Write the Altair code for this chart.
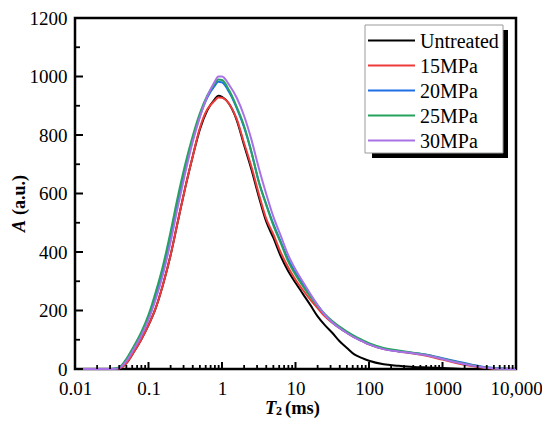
import altair as alt
import pandas as pd

# ---- data ----
T = [0.01, 0.0158, 0.0251, 0.0316, 0.0398, 0.0501, 0.0631, 0.0794, 0.1, 0.126,
     0.158, 0.2, 0.251, 0.316, 0.398, 0.501, 0.631, 0.794, 0.891, 1,
     1.26, 1.58, 2.0, 2.51, 3.16, 3.98, 5.01, 6.31, 7.94, 10,
     12.6, 15.8, 20, 25.1, 31.6, 39.8, 50.1, 63.1, 79.4, 100,
     158, 251, 398, 631, 1000, 1585, 2512, 3981, 6310, 10000]

untreated = [0, 0, 0, 0, 2, 20, 58, 100, 150, 210,
             290, 390, 505, 620, 725, 820, 884, 922, 934, 930,
             905, 852, 765, 683, 590, 505, 448, 385, 335, 295,
             257, 220, 180, 150, 124, 95, 72, 50, 38, 28,
             16, 11, 7, 5, 3, 1, 0, 0, 0, 0]
mpa15 = [0, 0, 0, 0, 2, 20, 58, 100, 150, 210,
         290, 390, 505, 620, 725, 825, 888, 917, 928, 927,
         905, 856, 772, 692, 600, 515, 460, 398, 348, 305,
         270, 238, 208, 180, 158, 140, 123, 108, 96, 84,
         68, 60, 53, 44, 32, 20, 10, 3, 0, 0]
mpa20 = [0, 0, 0, 0, 4, 30, 72, 118, 175, 250,
         338, 450, 570, 683, 783, 865, 928, 968, 982, 980,
         945, 893, 826, 742, 642, 565, 495, 435, 375, 330,
         290, 254, 218, 186, 160, 140, 124, 109, 97, 85,
         69, 61, 55, 48, 37, 26, 15, 6, 2, 0]
mpa25 = [0, 0, 0, 0, 5, 35, 78, 125, 185, 265,
         355, 470, 590, 700, 795, 875, 935, 975, 990, 988,
         951, 897, 830, 743, 640, 562, 490, 430, 368, 322,
         283, 248, 215, 187, 164, 145, 128, 113, 100, 88,
         72, 63, 56, 48, 35, 23, 13, 5, 1, 0]
mpa30 = [0, 0, 0, 0, 3, 27, 68, 113, 168, 240,
         325, 435, 555, 670, 775, 862, 932, 982, 1000, 1000,
         970, 928, 865, 785, 688, 600, 520, 455, 390, 340,
         298, 258, 218, 185, 160, 140, 123, 108, 96, 84,
         68, 60, 54, 46, 34, 22, 12, 4, 1, 0]

series_names = ["Untreated", "15MPa", "20MPa", "25MPa", "30MPa"]
series_values = [untreated, mpa15, mpa20, mpa25, mpa30]
series_colors = ["#000000", "#f03a3a", "#1f6fe5", "#25a35e", "#a872e6"]

x_tick_values = [0.01, 0.1, 1, 10, 100, 1000, 10000]
x_tick_labels = ["0.01", "0.1", "1", "10", "100", "1000", "10,000"]
x_minor_values = [m * d for d in [0.01, 0.1, 1, 10, 100, 1000] for m in range(2, 10)]
y_tick_values = [0, 200, 400, 600, 800, 1000, 1200]
y_minor_values = [100, 300, 500, 700, 900, 1100]

FONT = "Liberation Serif"
W, H = 441, 351

xscale = alt.Scale(type="log", domain=[0.01, 10000], nice=False)
yscale = alt.Scale(domain=[0, 1200], nice=False, zero=False)

label_expr = "".join(
    f"abs(datum.value - {v}) < {v * 0.01} ? '{l}' : " for v, l in zip(x_tick_values, x_tick_labels)
) + "''"

xaxis = alt.Axis(values=x_tick_values, labelExpr=label_expr, title=None, grid=False,
                 ticks=False, tickSize=0, domain=False, labelFont=FONT, labelFontSize=19,
                 labelColor="black", labelPadding=10, labelFlush=False, labelOverlap=False)
yaxis = alt.Axis(values=y_tick_values, format="d", title=None, grid=False,
                 ticks=False, tickSize=0, domain=False, labelFont=FONT, labelFontSize=19,
                 labelColor="black", labelPadding=8, labelOverlap=False)

layers = []

# curves
for name, vals, col in zip(series_names, series_values, series_colors):
    df = pd.DataFrame({"T": T, "A": vals})
    layers.append(
        alt.Chart(df).mark_line(color=col, strokeWidth=2, interpolate="monotone").encode(
            x=alt.X("T:Q", scale=xscale, axis=xaxis),
            y=alt.Y("A:Q", scale=yscale, axis=yaxis),
        )
    )

# inward ticks
layers.append(alt.Chart(pd.DataFrame({"T": x_tick_values})).mark_rule(color="black", strokeWidth=2).encode(
    x=alt.X("T:Q", scale=xscale, axis=xaxis), y=alt.value(H), y2=alt.value(H - 7)))
layers.append(alt.Chart(pd.DataFrame({"T": x_minor_values})).mark_rule(color="black", strokeWidth=1.8).encode(
    x=alt.X("T:Q", scale=xscale, axis=xaxis), y=alt.value(H), y2=alt.value(H - 4)))
layers.append(alt.Chart(pd.DataFrame({"A": y_tick_values})).mark_rule(color="black", strokeWidth=2).encode(
    y=alt.Y("A:Q", scale=yscale, axis=yaxis), x=alt.value(0), x2=alt.value(8)))
layers.append(alt.Chart(pd.DataFrame({"A": y_minor_values})).mark_rule(color="black", strokeWidth=1.8).encode(
    y=alt.Y("A:Q", scale=yscale, axis=yaxis), x=alt.value(0), x2=alt.value(5)))

one = pd.DataFrame({"k": [0]})

# legend with shadow
layers.append(alt.Chart(one).mark_rect(color="black").encode(
    x=alt.value(297), x2=alt.value(433), y=alt.value(12), y2=alt.value(140)))
layers.append(alt.Chart(one).mark_rect(fill="white", stroke="#9a9a9a", strokeWidth=1).encode(
    x=alt.value(290), x2=alt.value(428), y=alt.value(7), y2=alt.value(135)))
for i, (name, col) in enumerate(zip(series_names, series_colors)):
    ry = 22.5 + 25 * i
    layers.append(alt.Chart(one).mark_rule(color=col, strokeWidth=2).encode(
        x=alt.value(293), x2=alt.value(340), y=alt.value(ry)))
    layers.append(alt.Chart(one).mark_text(font=FONT, fontSize=20, color="black", align="left",
                                           baseline="middle").encode(
        x=alt.value(345), y=alt.value(ry + 1), text=alt.value(name)))

# x-axis title: T2 (ms)
layers.append(alt.Chart(one).mark_text(font=FONT, fontSize=18.5, fontWeight="bold", fontStyle="italic",
                                       align="left", baseline="alphabetic", color="black").encode(
    x=alt.value(190), y=alt.value(396), text=alt.value("T")))
layers.append(alt.Chart(one).mark_text(font=FONT, fontSize=12, fontWeight="bold",
                                       align="left", baseline="alphabetic", color="black").encode(
    x=alt.value(201), y=alt.value(397), text=alt.value("2")))
layers.append(alt.Chart(one).mark_text(font=FONT, fontSize=18.5, fontWeight="bold",
                                       align="left", baseline="alphabetic", color="black").encode(
    x=alt.value(210), y=alt.value(396), text=alt.value("(ms)")))

# y-axis title: A (a.u.)
layers.append(alt.Chart(one).mark_text(font=FONT, fontSize=18, fontWeight="bold", fontStyle="italic",
                                       align="left", baseline="alphabetic", angle=270, color="black").encode(
    x=alt.value(-50), y=alt.value(214), text=alt.value("A")))
layers.append(alt.Chart(one).mark_text(font=FONT, fontSize=18, fontWeight="bold",
                                       align="left", baseline="alphabetic", angle=270, color="black").encode(
    x=alt.value(-50), y=alt.value(197), text=alt.value("(a.u.)")))

chart = alt.layer(*layers).properties(
    width=W, height=H,
    autosize=alt.AutoSizeParams(type="none"),
    padding={"left": 67, "top": 10, "right": 26, "bottom": 49},
    background="white",
).configure_view(stroke="black", strokeWidth=2.5)

chart.save("out.html", embed_options={"renderer": "svg", "actions": False})
